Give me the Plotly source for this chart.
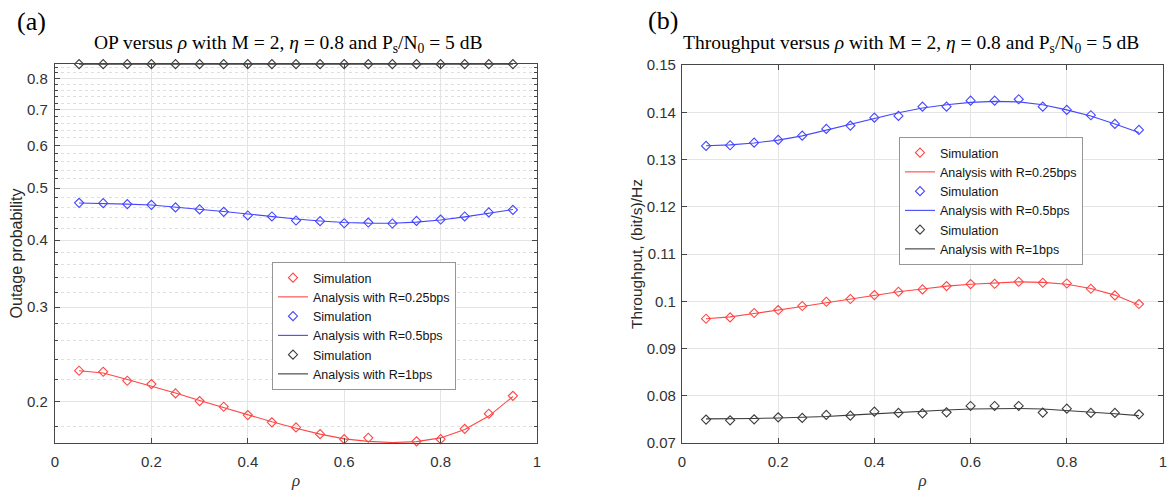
import math
import plotly.graph_objects as go

# ---- data -------------------------------------------------------------
rho = [0.05, 0.10, 0.15, 0.20, 0.25, 0.30, 0.35, 0.40, 0.45, 0.50,
       0.55, 0.60, 0.65, 0.70, 0.75, 0.80, 0.85, 0.90, 0.95]

# (a) outage probability
op_sim_025 = [0.2284, 0.2274, 0.2188, 0.2157, 0.2072, 0.2005, 0.1957, 0.1888, 0.1830, 0.1791,
              0.1740, 0.1703, 0.1713, 0.1668, 0.1687, 0.1703, 0.1780, 0.1899, 0.2051]
op_ana_025 = [0.2284, 0.2262, 0.2200, 0.2140, 0.2075, 0.2010, 0.1950, 0.1890, 0.1835, 0.1785,
              0.1740, 0.1705, 0.1687, 0.1678, 0.1685, 0.1712, 0.1775, 0.1880, 0.2045]
op_sim_05 = [0.4693, 0.4687, 0.4667, 0.4653, 0.4602, 0.4563, 0.4516, 0.4446, 0.4427, 0.4351,
             0.4338, 0.4300, 0.4313, 0.4295, 0.4343, 0.4369, 0.4427, 0.4504, 0.4555]
op_ana_05 = [0.4690, 0.4683, 0.4668, 0.4650, 0.4610, 0.4568, 0.4522, 0.4475, 0.4425, 0.4380,
             0.4343, 0.4315, 0.4302, 0.4300, 0.4320, 0.4360, 0.4420, 0.4490, 0.4560]
op_sim_1 = [0.851, 0.851, 0.851, 0.851, 0.851, 0.851, 0.851, 0.851, 0.851, 0.851,
            0.851, 0.851, 0.851, 0.851, 0.851, 0.851, 0.851, 0.851, 0.851]
op_ana_1 = [0.851, 0.851, 0.851, 0.851, 0.851, 0.851, 0.851, 0.851, 0.851, 0.851,
            0.851, 0.851, 0.851, 0.851, 0.851, 0.851, 0.851, 0.851, 0.851]

# (b) throughput
tp_sim_025 = [0.09630, 0.09658, 0.09751, 0.09814, 0.09899, 0.09989, 0.10047, 0.10131, 0.10201, 0.10250,
              0.10321, 0.10364, 0.10370, 0.10412, 0.10391, 0.10376, 0.10264, 0.10123, 0.09941]
tp_ana_025 = [0.0963, 0.0967, 0.0974, 0.0981, 0.0989, 0.0997, 0.1005, 0.1013, 0.1020, 0.1026,
              0.1032, 0.1036, 0.1039, 0.1041, 0.1040, 0.1036, 0.1027, 0.1013, 0.0992]
tp_sim_05 = [0.13288, 0.13302, 0.13357, 0.13414, 0.13505, 0.13647, 0.13717, 0.13886, 0.13922, 0.14118,
             0.14118, 0.14245, 0.14245, 0.14275, 0.14118, 0.14049, 0.13937, 0.13753, 0.13626]
tp_ana_05 = [0.1329, 0.1331, 0.1335, 0.1341, 0.1350, 0.1362, 0.1374, 0.1387, 0.1399, 0.1409,
             0.1416, 0.1421, 0.1423, 0.1422, 0.1416, 0.1405, 0.1392, 0.1375, 0.1357]
tp_sim_1 = [0.07495, 0.07480, 0.07501, 0.07543, 0.07531, 0.07594, 0.07579, 0.07664, 0.07636, 0.07628,
            0.07649, 0.07784, 0.07784, 0.07784, 0.07643, 0.07727, 0.07636, 0.07636, 0.07607]
tp_ana_1 = [0.0751, 0.0751, 0.0752, 0.0753, 0.0754, 0.0756, 0.0759, 0.0762, 0.0765, 0.0768,
            0.0770, 0.0772, 0.0773, 0.0773, 0.0772, 0.0769, 0.0766, 0.0762, 0.0758]

x_ticks = [0, 0.2, 0.4, 0.6, 0.8, 1]
x_labels = ["0", "0.2", "0.4", "0.6", "0.8", "1"]
op_ticks = [0.2, 0.3, 0.4, 0.5, 0.6, 0.7, 0.8]
op_labels = ["0.2", "0.3", "0.4", "0.5", "0.6", "0.7", "0.8"]
op_minor = [0.18, 0.22, 0.24, 0.26, 0.28, 0.32, 0.34, 0.36, 0.38, 0.42, 0.44, 0.46, 0.48,
            0.52, 0.54, 0.56, 0.58, 0.62, 0.64, 0.66, 0.68, 0.72, 0.74, 0.76, 0.78, 0.82, 0.84]
tp_ticks = [0.07, 0.08, 0.09, 0.10, 0.11, 0.12, 0.13, 0.14, 0.15]
tp_labels = ["0.07", "0.08", "0.09", "0.1", "0.11", "0.12", "0.13", "0.14", "0.15"]

# ---- styling ----------------------------------------------------------
RED = "rgb(255,70,70)"
BLUE = "rgb(70,70,255)"
BLACK = "rgb(60,60,60)"
AXIS = "rgb(70,70,70)"
GRID = "rgb(228,228,228)"
SANS = "Liberation Sans, Arial, sans-serif"
SERIF = "Liberation Serif, Times New Roman, serif"

W, H = 1169, 499


def px_x(p):
    return p / W


def px_y(p):
    return 1 - p / H


fig = go.Figure()

series = [
    # (x-axis, y-axis, legend, sim, ana, colour, label)
    ("x", "y", "legend", op_sim_025, op_ana_025, RED, "Analysis with R=0.25bps"),
    ("x", "y", "legend", op_sim_05, op_ana_05, BLUE, "Analysis with R=0.5bps"),
    ("x", "y", "legend", op_sim_1, op_ana_1, BLACK, "Analysis with R=1bps"),
    ("x2", "y2", "legend2", tp_sim_025, tp_ana_025, RED, "Analysis with R=0.25bps"),
    ("x2", "y2", "legend2", tp_sim_05, tp_ana_05, BLUE, "Analysis with R=0.5bps"),
    ("x2", "y2", "legend2", tp_sim_1, tp_ana_1, BLACK, "Analysis with R=1bps"),
]

for xa, ya, lg, sim, ana, col, lab in series:
    fig.add_trace(go.Scatter(
        x=rho, y=sim, mode="markers", name="Simulation", xaxis=xa, yaxis=ya, legend=lg,
        marker=dict(symbol="diamond-open", size=7, color=col, line=dict(width=1.1, color=col)),
        cliponaxis=False))
    fig.add_trace(go.Scatter(
        x=rho, y=ana, mode="lines", name=lab, xaxis=xa, yaxis=ya, legend=lg,
        line=dict(color=col, width=1.1), cliponaxis=False))

common_axis = dict(
    automargin=False,
    showline=True, linecolor=AXIS, linewidth=1.2, mirror="ticks",
    ticks="inside", ticklen=5, tickcolor=AXIS, tickwidth=1,
    showgrid=True, gridcolor=GRID, gridwidth=1, zeroline=False,
    tickfont=dict(family=SANS, size=15, color="rgb(50,50,50)"),
)

legend_style = dict(
    xanchor="left", yanchor="top",
    bgcolor="white", bordercolor="rgb(150,150,150)", borderwidth=1,
    font=dict(family=SANS, size=12.5, color="rgb(20,20,20)"),
    tracegroupgap=0, itemwidth=30,
)

fig.update_layout(
    width=W, height=H, margin=dict(l=0, r=0, t=0, b=0),
    paper_bgcolor="white", plot_bgcolor="white",
    xaxis=dict(domain=[px_x(55), px_x(537)], anchor="y", range=[0, 1],
               tickvals=x_ticks, ticktext=x_labels, ticklabelstandoff=5,
               title=dict(text="<i>ρ</i>", font=dict(family=SERIF, size=17, color="rgb(50,50,50)"), standoff=5),
               **common_axis),
    yaxis=dict(domain=[px_y(443), px_y(64)], anchor="x", type="log",
               range=[math.log10(0.1675), math.log10(0.8515)],
               tickvals=op_ticks, ticktext=op_labels, ticklabelstandoff=3,
               minor=dict(tickvals=op_minor, ticks="inside", ticklen=3, tickcolor=AXIS,
                          showgrid=True, gridcolor="rgb(222,222,222)", griddash="dot"),
               title=dict(text="Outage probability", font=dict(family=SANS, size=16, color="rgb(40,40,40)"), standoff=0),
               **common_axis),
    xaxis2=dict(domain=[px_x(682), px_x(1163)], anchor="y2", range=[0, 1],
                tickvals=x_ticks, ticktext=x_labels, ticklabelstandoff=5,
                title=dict(text="<i>ρ</i>", font=dict(family=SERIF, size=17, color="rgb(50,50,50)"), standoff=5),
                **common_axis),
    yaxis2=dict(domain=[px_y(443), px_y(65)], anchor="x2", range=[0.07, 0.15],
                tickvals=tp_ticks, ticktext=tp_labels, ticklabelstandoff=2,
                title=dict(text="Throughput, (bit/s)/Hz", font=dict(family=SANS, size=15.5, color="rgb(40,40,40)"), standoff=0),
                **common_axis),
    legend=dict(x=px_x(272), y=px_y(262), **legend_style),
    legend2=dict(x=px_x(899), y=px_y(137), **legend_style),
    showlegend=True,
)

# panel letters and titles
fig.add_annotation(text="(a)", x=px_x(15), y=px_y(21), xref="paper", yref="paper",
                   xanchor="left", yanchor="middle", showarrow=False,
                   font=dict(family=SERIF, size=26, color="black"))
fig.add_annotation(text="(b)", x=px_x(646), y=px_y(20), xref="paper", yref="paper",
                   xanchor="left", yanchor="middle", showarrow=False,
                   font=dict(family=SERIF, size=26, color="black"))
fig.add_annotation(text="OP versus <i>ρ</i> with M = 2, <i>η</i> = 0.8 and P<sub>s</sub>/N<sub>0</sub> = 5 dB",
                   x=px_x(288), y=px_y(44), xref="paper", yref="paper",
                   xanchor="center", yanchor="middle", showarrow=False,
                   font=dict(family=SERIF, size=19.5, color="black"))
fig.add_annotation(text="Throughput versus <i>ρ</i> with M = 2, <i>η</i> = 0.8 and P<sub>s</sub>/N<sub>0</sub> = 5 dB",
                   x=px_x(911), y=px_y(44), xref="paper", yref="paper",
                   xanchor="center", yanchor="middle", showarrow=False,
                   font=dict(family=SERIF, size=19.5, color="black"))

fig.write_html("out.html", post_script="document.body.style.margin='0';")
